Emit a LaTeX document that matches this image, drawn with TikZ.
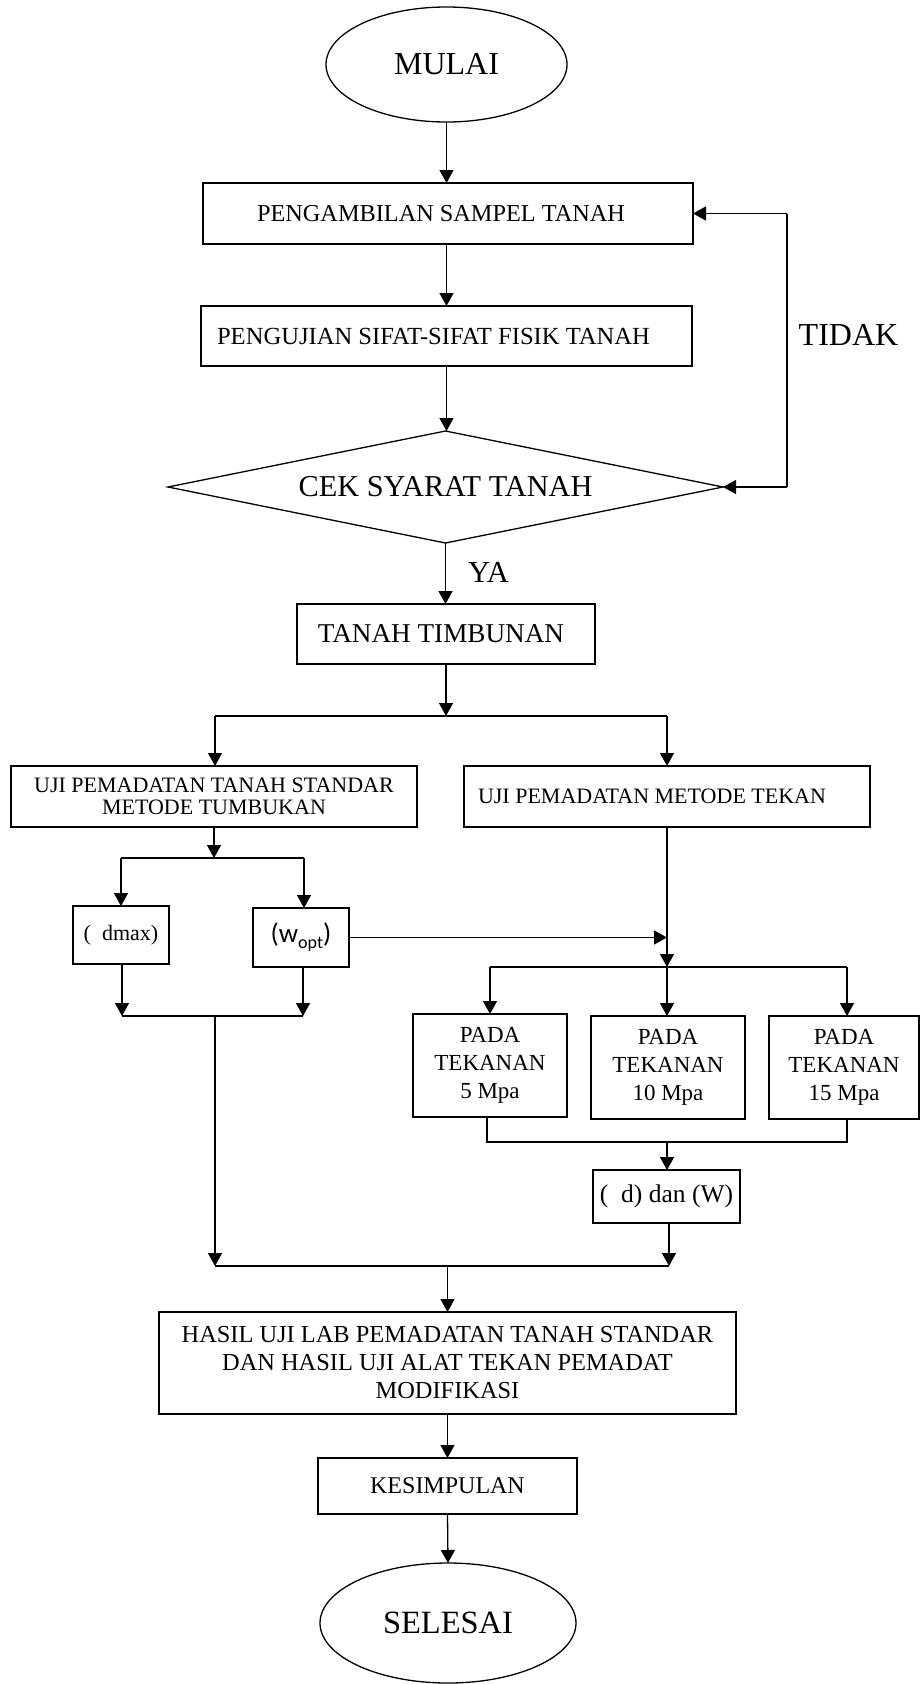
\documentclass[tikz,border=0pt]{standalone}
\usepackage{fontspec}
\setmainfont{Liberation Serif}
\newfontfamily\carlito{Carlito}
\usetikzlibrary{shapes.geometric,arrows.meta}
\newcommand{\fs}[2]{\fontsize{#1}{#2}\selectfont}
\begin{document}
\begin{tikzpicture}[x=1pt,y=-1pt,
  every node/.style={inner sep=0pt,outer sep=0pt},
  line/.style={line width=1.3pt},
  arr/.style={line width=1.3pt,-{Triangle[length=13pt,width=14pt]}},
  boxnode/.style={draw,line width=1.3pt,rectangle,align=center},
  ovalnode/.style={draw,line width=1.3pt,ellipse},
]
\useasboundingbox (0,0) rectangle (920,1684);
\fill[white] (0,0) rectangle (920,1684);

% nodes
\node[ovalnode,minimum width=241pt,minimum height=115pt,font=\fs{32}{37}] (mulai) at (446.5,64.5) {MULAI};
\node[boxnode,minimum width=490pt,minimum height=61pt,font=\fs{24.3}{28}] (ambil) at (448,213.5) {PENGAMBILAN SAMPEL TANAH\kern14pt};
\node[boxnode,minimum width=491pt,minimum height=60pt,font=\fs{24.6}{28}] (fisik) at (446.5,336) {PENGUJIAN SIFAT-SIFAT FISIK TANAH\kern26pt};
\node[draw,line width=1.3pt,diamond,shape aspect=4.96,minimum width=555pt,minimum height=112pt,font=\fs{30.3}{35}] (cek) at (445.5,487) {CEK SYARAT TANAH};
\node[anchor=base,font=\fs{32}{37}] (tidak) at (848.5,345) {TIDAK};
\node[anchor=base,font=\fs{30.5}{35}] (ya) at (488.5,582) {YA};
\node[boxnode,minimum width=298pt,minimum height=60pt,font=\fs{27.2}{31}] (timb) at (446,634) {TANAH TIMBUNAN\kern10pt};
\node[boxnode,minimum width=406pt,minimum height=61pt,font=\fs{22}{25.5}] (ujiA) at (214,796.5) {\raisebox{-3pt}{UJI PEMADATAN TANAH STANDAR}\\METODE TUMBUKAN};
\node[boxnode,minimum width=406pt,minimum height=61pt,font=\fs{22}{25}] (ujiB) at (667,796.5) {UJI PEMADATAN METODE TEKAN\kern30pt};
\node[boxnode,minimum width=96pt,minimum height=58pt,font=\fs{22}{26}] (dmax) at (121,935) {(\hspace{0.5em}dmax)};
\node[boxnode,minimum width=96pt,minimum height=59pt,font=\carlito\fs{27}{32}] (wopt) at (301,937.5) {(w\raisebox{-0.22em}{\fs{18}{20}opt})};
\node[boxnode,minimum width=154pt,minimum height=103pt,font=\fs{23}{28}] (p5) at (490,1065.5) {PADA\\TEKANAN\\5 Mpa};
\node[boxnode,minimum width=154pt,minimum height=103pt,font=\fs{23}{28}] (p10) at (668,1067.5) {PADA\\TEKANAN\\10 Mpa};
\node[boxnode,minimum width=150pt,minimum height=103pt,font=\fs{23}{28}] (p15) at (844,1067.5) {PADA\\TEKANAN\\15 Mpa};
\node[boxnode,minimum width=147pt,minimum height=53pt,font=\fs{25.5}{30}] (dw) at (666.5,1196.5) {(\hspace{0.5em}d) dan (W)};
\node[boxnode,minimum width=577pt,minimum height=102pt,font=\fs{24.4}{28}] (hasil) at (447.5,1363) {HASIL UJI LAB PEMADATAN TANAH STANDAR\\DAN HASIL UJI ALAT TEKAN PEMADAT\\MODIFIKASI};
\node[boxnode,minimum width=259pt,minimum height=56pt,font=\fs{24}{28}] (kes) at (447.5,1486) {KESIMPULAN};
\node[ovalnode,minimum width=256pt,minimum height=120pt,font=\fs{32.5}{37}] (selesai) at (448,1623) {SELESAI};

% junction coordinates
\coordinate (fb1) at (787,213.5);
\coordinate (fb2) at (787,487);
\coordinate (s1) at (446,716);
\coordinate (s1l) at (215,716);
\coordinate (s1r) at (667,716);
\coordinate (s2c) at (214,858);
\coordinate (s2l) at (121,858);
\coordinate (s2r) at (304,858);
\coordinate (j1l) at (122,1016);
\coordinate (j1r) at (303,1016);
\coordinate (j1c) at (215,1016);
\coordinate (s3c) at (667,967);
\coordinate (s3l) at (490,967);
\coordinate (s3r) at (847,967);
\coordinate (j2l) at (487,1142);
\coordinate (j2r) at (847,1142);
\coordinate (j2c) at (667,1142);
\coordinate (j3l) at (215,1266);
\coordinate (j3r) at (669,1266);
\coordinate (j3c) at (447.5,1266);

% connectors
\draw[arr] (mulai.south) -- (mulai.south |- ambil.north);
\draw[arr] (ambil.south -| fisik.north) -- (fisik.north);
\draw[arr] (fisik.south) -- (fisik.south |- cek.north);
\draw[line] (fb1) -- (fb2);
\draw[arr] (fb1) -- (ambil.east);
\draw[arr] (fb2) -- (cek.east);
\draw[arr] (cek.south) -- (cek.south |- timb.north);
\draw[arr] (timb.south) -- (s1);
\draw[line] (s1l) -- (s1r);
\draw[arr] (s1l) -- (s1l |- ujiA.north);
\draw[arr] (s1r) -- (s1r |- ujiB.north);
\draw[arr] (ujiA.south) -- (s2c);
\draw[line] (s2l) -- (s2r);
\draw[arr] (s2l) -- (dmax.north);
\draw[arr] (s2r) -- (s2r |- wopt.north);
\draw[arr] (j1l |- dmax.south) -- (j1l);
\draw[arr] (j1r |- wopt.south) -- (j1r);
\draw[line] (j1l) -- (j1r);
\draw[arr] (j1c) -- (j3l);
\draw[arr] (ujiB.south) -- (s3c);
\draw[arr] (wopt.east) -- (wopt.east -| s3c);
\draw[line] (s3l) -- (s3r);
\draw[arr] (s3l) -- (s3l |- p5.north);
\draw[arr] (s3c) -- (s3c |- p10.north);
\draw[arr] (s3r) -- (s3r |- p15.north);
\draw[line] (j2l |- p5.south) -- (j2l) -- (j2r) -- (j2r |- p15.south);
\draw[arr] (j2c) -- (j2c |- dw.north);
\draw[arr] (dw.south -| j3r) -- (j3r);
\draw[line] (j3l) -- (j3r);
\draw[arr] (j3c) -- (hasil.north);
\draw[arr] (hasil.south) -- (kes.north);
\draw[arr] (kes.south) -- (selesai.north);
\end{tikzpicture}
\end{document}
